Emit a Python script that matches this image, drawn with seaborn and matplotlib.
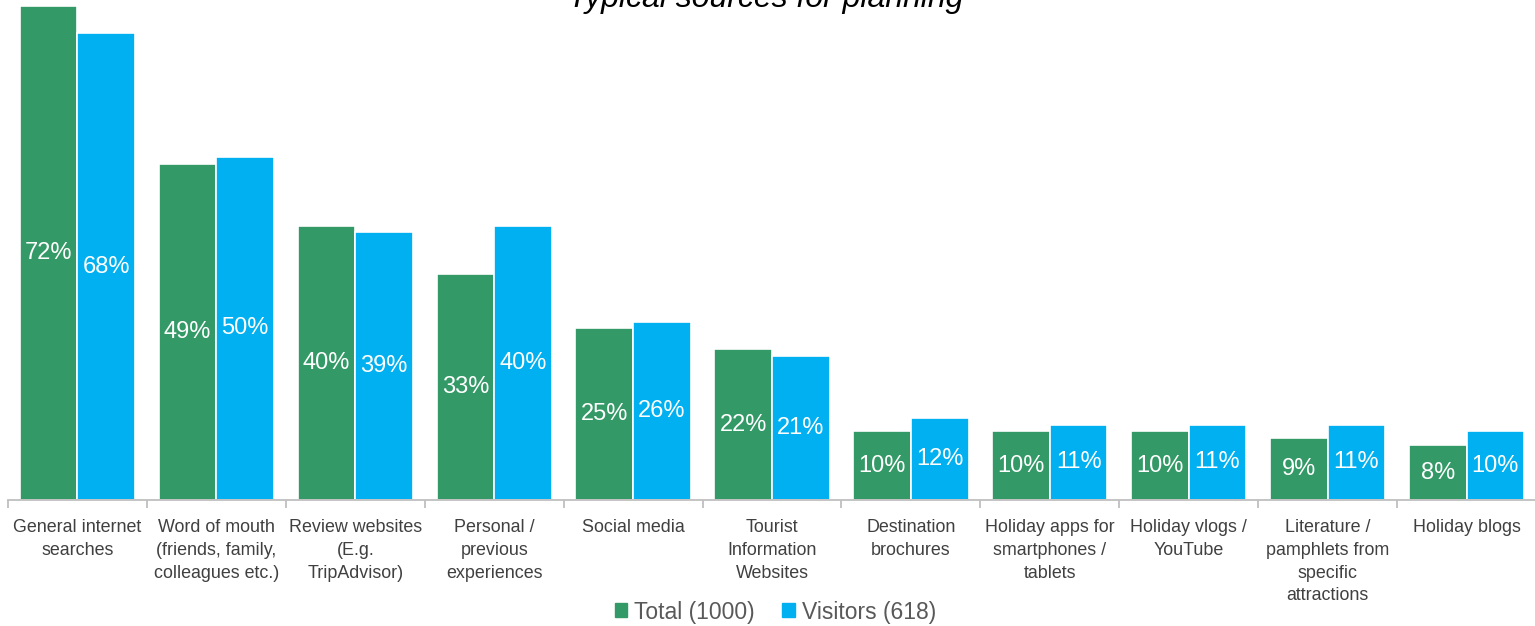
import matplotlib
matplotlib.use("Agg")
import matplotlib.pyplot as plt
import seaborn as sns
import pandas as pd
import numpy as np

# Planning sources and share of respondents (%) for each group
categories = [
    "General internet\nsearches",
    "Word of mouth\n(friends, family,\ncolleagues etc.)",
    "Review websites\n(E.g.\nTripAdvisor)",
    "Personal /\nprevious\nexperiences",
    "Social media",
    "Tourist\nInformation\nWebsites",
    "Destination\nbrochures",
    "Holiday apps for\nsmartphones /\ntablets",
    "Holiday vlogs /\nYouTube",
    "Literature /\npamphlets from\nspecific\nattractions",
    "Holiday blogs",
]
total_values = [72, 49, 40, 33, 25, 22, 10, 10, 10, 9, 8]
visitor_values = [68, 50, 39, 40, 26, 21, 12, 11, 11, 11, 10]
series_names = ["Total (1000)", "Visitors (618)"]
title = "Typical sources for planning"

colors = ["#339966", "#00B0F0"]

df = pd.DataFrame({
    "source": categories * 2,
    "group": [series_names[0]] * len(categories) + [series_names[1]] * len(categories),
    "value": total_values + visitor_values,
})

sns.set_theme(style="white")
plt.rcParams["font.family"] = ["Liberation Sans", "DejaVu Sans"]

fig = plt.figure(figsize=(15.35, 6.26), dpi=100)
ax = fig.add_axes([8 / 1535, 1 - 500 / 626, 1528 / 1535, 500 / 626])

sns.barplot(
    data=df, x="source", y="value", hue="group",
    palette=colors, width=0.83, ax=ax, legend=False,
    edgecolor="white", linewidth=1.2, saturation=1,
)

ax.set_ylim(0, 72.87)
ax.set_xlim(-0.5, len(categories) - 0.5)
ax.set_xlabel("")
ax.set_ylabel("")
ax.set_yticks([])

for s in ["top", "right", "left"]:
    ax.spines[s].set_visible(False)
ax.spines["bottom"].set_color("#BFBFBF")
ax.spines["bottom"].set_linewidth(1.3)

# Category labels centred, boundary tick marks between groups
ax.set_xticks(range(len(categories)))
ax.set_xticklabels(categories, fontsize=12.9, color="#404040", linespacing=1.43, va="top")
ax.tick_params(axis="x", which="major", length=0, pad=14)
ax.set_xticks(np.arange(-0.5, len(categories), 1.0), minor=True)
ax.tick_params(axis="x", which="minor", length=6, width=1.3, color="#BFBFBF", bottom=True)

# Value labels in the middle of each bar
for container in ax.containers:
    vals = [b.get_height() for b in container]
    ax.bar_label(container, labels=[f"{v:.0f}%" for v in vals], label_type="center",
                 color="white", fontsize=17)

# Title sits at the very top edge
fig.text(0.4985, 1 - 7 / 626, title, ha="center", va="baseline",
         fontsize=23, style="italic", color="#000000")

handles = [plt.Rectangle((0, 0), 1, 1, color=c) for c in colors]
fig.legend(handles, series_names, loc="center", bbox_to_anchor=(0.505, 1 - 612 / 626),
           ncol=2, frameon=False, fontsize=16.5, handlelength=0.55, handleheight=0.55,
           handletextpad=0.3, columnspacing=1.2, labelcolor="#595959")

fig.savefig("out.png", dpi=100)
